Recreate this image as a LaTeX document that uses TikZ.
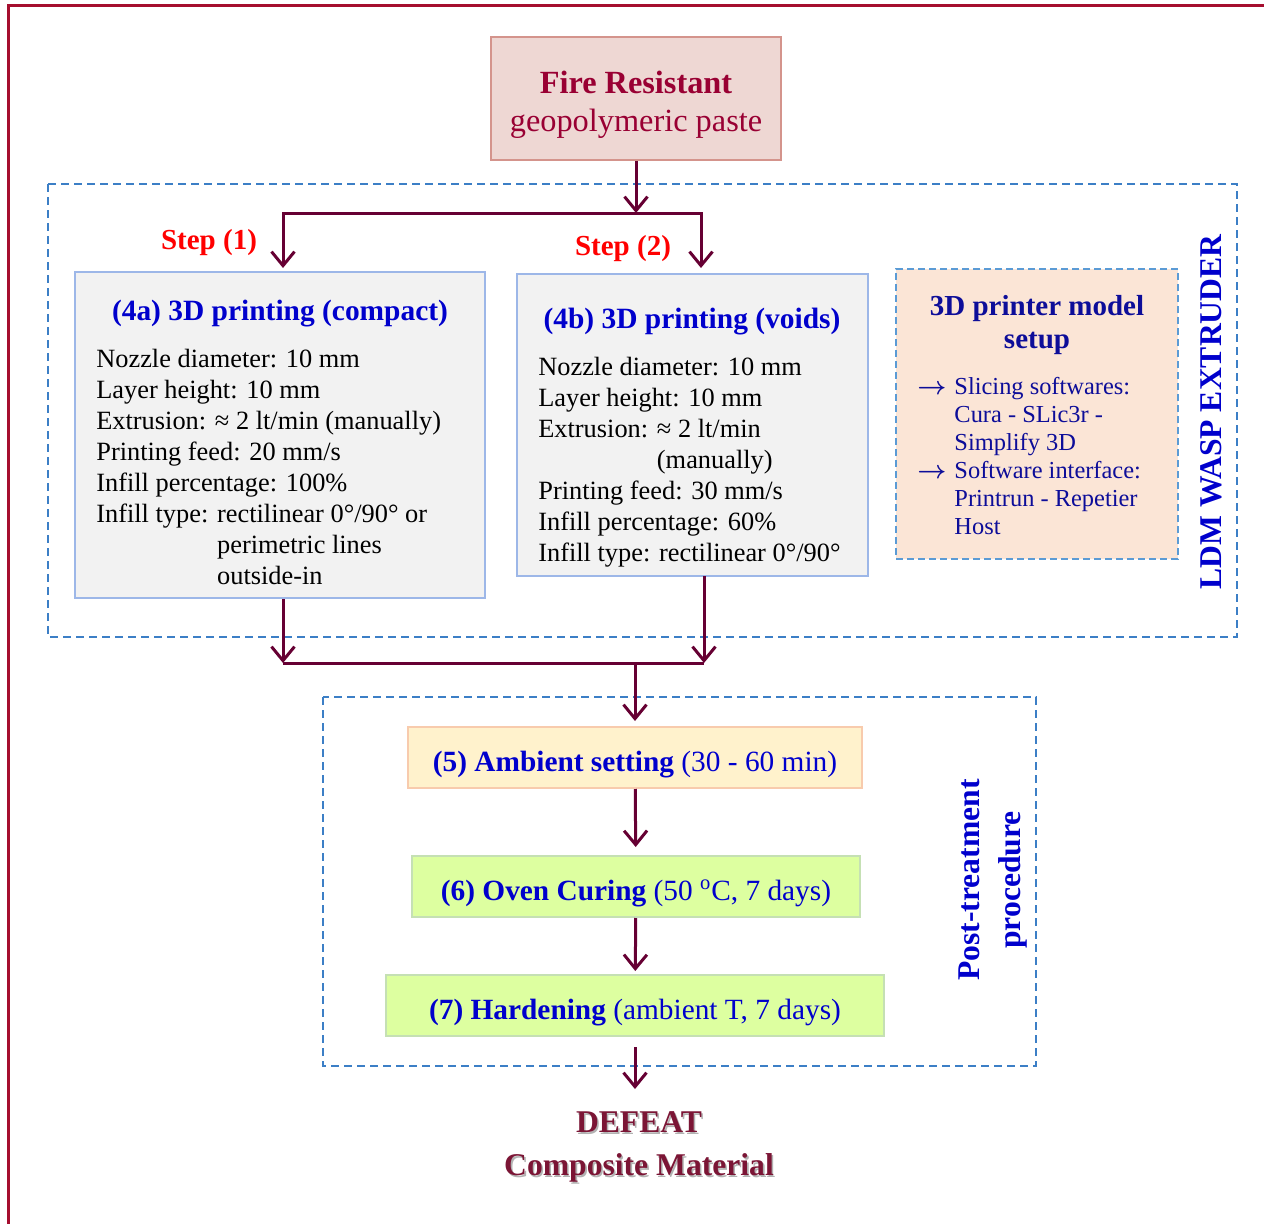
\documentclass[tikz,border=0pt]{standalone}
\usepackage{amsmath}
\usepackage{fontspec}
\setmainfont{Liberation Serif}
\usepackage{tikz}
\usetikzlibrary{arrows.meta,calc}
\definecolor{framered}{HTML}{A50E2F}
\definecolor{flowred}{HTML}{660033}
\definecolor{pastefill}{HTML}{EED7D3}
\definecolor{pastedraw}{HTML}{D4948C}
\definecolor{pastetext}{HTML}{990033}
\definecolor{groupblue}{HTML}{3C7FC6}
\definecolor{titleblue}{HTML}{0000CC}
\definecolor{setupblue}{HTML}{0D0D99}
\definecolor{printgrey}{HTML}{F2F2F2}
\definecolor{printdraw}{HTML}{9DB7E8}
\definecolor{setupfill}{HTML}{FBE5D6}
\definecolor{setupdraw}{HTML}{5B9BD5}
\definecolor{settlefill}{HTML}{FFF2CC}
\definecolor{settledraw}{HTML}{F8CBAD}
\definecolor{curefill}{HTML}{DDFFA0}
\definecolor{curedraw}{HTML}{C5E0B4}
\definecolor{defeatred}{HTML}{7B1535}
\newcommand{\embossed}[1]{\leavevmode\rlap{\hspace{0.9pt}\raisebox{-0.9pt}{\textcolor{black!30}{#1}}}#1}
\tikzset{
	flow/.style={draw=flowred, line width=0.06cm, -{Straight Barb[length=0.28cm,width=0.46cm]}},
	joinline/.style={draw=flowred, line width=0.06cm},
	groupbox/.style={draw=groupblue, line width=0.035cm, dash pattern=on 0.16cm off 0.1cm},
	steplabel/.style={text=red, font=\fontsize{16.5}{19}\selectfont\bfseries},
	printbox/.style={draw=printdraw, fill=printgrey, line width=0.04cm},
	printtitle/.style={text=titleblue, font=\fontsize{16.75}{19}\selectfont\bfseries},
	printtext/.style={anchor=north west, inner sep=0pt, align=left, font=\fontsize{15}{17.6}\selectfont},
	stagebox/.style={line width=0.04cm, minimum height=1.22cm, text height=20pt, text depth=4pt, text=titleblue, font=\fontsize{16.7}{19}\selectfont},
	sidelabel/.style={rotate=90, text=titleblue, align=center, font=\fontsize{18}{22.8}\selectfont\bfseries}
}
\begin{document}
\begin{tikzpicture}
	%%%%% START %%%%%
	\useasboundingbox (0, 0) rectangle (25.28, -24.48);
	\draw[line width=0.06cm, framered] (25.28, -0.12) -- (0.16, -0.12) -- (0.16, -24.48);
	
	\node[draw=pastedraw, fill=pastefill, line width=0.04cm, minimum width=5.8cm, minimum height=2.46cm] (paste) at (12.72, -1.97) {};
	\node[align=center, text=pastetext, font=\fontsize{18.4}{21.6}\selectfont] (pastename) at (12.72, -2.1) {\textbf{Fire Resistant}\\geopolymeric paste};
	
	%%%%% EXTRUDER %%%%%
	\draw[groupbox] (0.96, -3.68) rectangle (24.74, -12.74);
	\node[sidelabel] (extruder) at (24.22, -8.24) {LDM WASP EXTRUDER};
	
	\node[steplabel] (step1) at (4.18, -4.86) {Step (1)};
	\node[steplabel] (step2) at (12.46, -4.98) {Step (2)};
	
	\node[printbox, minimum width=8.2cm, minimum height=6.52cm] (box4a) at (5.6, -8.7) {};
	\node[printtitle] (title4a) at (5.6, -6.28) {(4a) 3D printing (compact)};
	\node[printtext] (text4a) at (1.92, -6.98) {Nozzle diameter: 10 mm\\Layer height: 10 mm\\Extrusion: ≈ 2 lt/min (manually)\\Printing feed: 20 mm/s\\Infill percentage: 100\%\\Infill type: rectilinear 0°/90° or\\\phantom{Infill type: }perimetric lines\\\phantom{Infill type: }outside-in};
	
	\node[printbox, minimum width=7.02cm, minimum height=6.04cm] (box4b) at (13.85, -8.5) {};
	\node[printtitle] (title4b) at (13.84, -6.44) {(4b) 3D printing (voids)};
	\node[printtext] (text4b) at (10.76, -7.14) {Nozzle diameter: 10 mm\\Layer height: 10 mm\\Extrusion: ≈ 2 lt/min\\\phantom{Extrusion: }(manually)\\Printing feed: 30 mm/s\\Infill percentage: 60\%\\Infill type: rectilinear 0°/90°};
	
	\node[draw=setupdraw, fill=setupfill, line width=0.035cm, dash pattern=on 0.14cm off 0.08cm, minimum width=5.64cm, minimum height=5.8cm] (setup) at (20.74, -8.28) {};
	\node[text=setupblue, align=center, font=\fontsize{16.5}{19.3}\selectfont\bfseries] (setuptitle) at (20.74, -6.5) {3D printer model\\setup};
	\node[anchor=north west, inner sep=0pt, text=setupblue, font=\fontsize{13.9}{15.9}\selectfont] (setuplist) at (18.34, -7.49) {\begin{tabular}{@{}l@{\hspace{0.16cm}}l@{}}$\boldsymbol{\rightarrow}$ & Slicing softwares:\\ & Cura - SLic3r -\\ & Simplify 3D\\$\boldsymbol{\rightarrow}$ & Software interface:\\ & Printrun - Repetier\\ & Host\end{tabular}};
	
	\coordinate (split) at (12.72, -4.26);
	\coordinate (in4a) at (5.66, -5.36);
	\coordinate (in4b) at (14.02, -5.36);
	\draw[flow] (paste.south) -- (split);
	\draw[flow] (split) -| (in4a);
	\draw[flow] (split) -| (in4b);
	
	\coordinate (merge) at (12.7, -13.26);
	\coordinate (out4b) at (14.08, -11.52);
	\draw[flow] (box4a.south -| in4a) -- (in4a |- merge);
	\draw[flow] (out4b) -- (out4b |- merge);
	\draw[joinline] (in4a |- merge) -- (out4b |- merge);
	
	%%%%% POST-TREATMENT %%%%%
	\draw[groupbox] (6.46, -13.94) rectangle (20.72, -21.32);
	\node[sidelabel] (post) at (19.86, -17.6) {Post-treatment\\procedure};
	
	\node[stagebox, draw=settledraw, fill=settlefill, minimum width=9.08cm] (box5) at (12.7, -15.15) {\textbf{(5) Ambient setting} (30 - 60 min)};
	\node[stagebox, draw=curedraw, fill=curefill, minimum width=8.96cm] (box6) at (12.72, -17.73) {\textbf{(6) Oven Curing} (50 \textsuperscript{o}C, 7 days)};
	\node[stagebox, draw=curedraw, fill=curefill, minimum width=9.96cm] (box7) at (12.7, -20.11) {\textbf{(7) Hardening} (ambient T, 7 days)};
	
	\draw[flow, shorten >=0.1cm] (merge) -- (merge |- box5.north);
	\draw[flow, shorten >=0.16cm] (box5) -- (box6);
	\draw[flow, shorten >=0.06cm] (box6) -- (box7);
	
	\node[inner sep=0pt, align=center, text=defeatred, font=\fontsize{18}{24.5}\selectfont\bfseries] (result) at (12.78, -22.96) {\embossed{DEFEAT}\\\embossed{Composite Material}};
	\draw[flow, shorten <=0.2cm, shorten >=0.45cm] (box7.south) -- (box7.south |- result.north);
	%%%%% END %%%%%
\end{tikzpicture}
\end{document}
